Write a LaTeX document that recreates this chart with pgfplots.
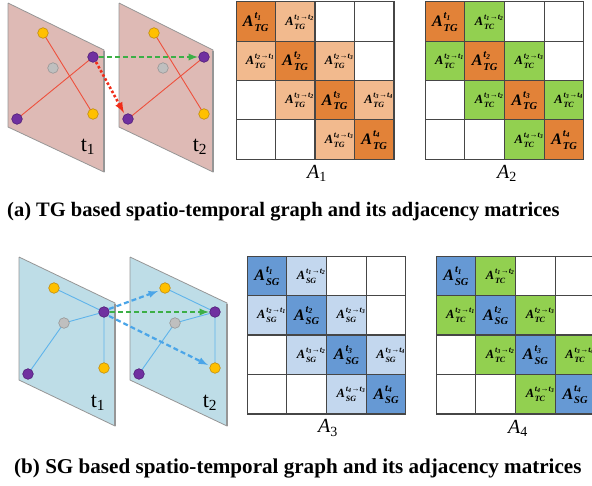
\documentclass[border=0pt]{standalone}
\usepackage{pgfplots}
\pgfplotsset{compat=1.18}
\usepackage{fontspec}
\setmainfont{Liberation Serif}

% plane and node colours
\definecolor{planeRed}{RGB}{222,186,181}
\definecolor{planeBlue}{RGB}{190,221,231}
\definecolor{planeEdge}{RGB}{150,150,150}
\definecolor{edgeRed}{RGB}{238,80,60}
\definecolor{edgeBlue}{RGB}{95,180,235}
\definecolor{arrBlue}{RGB}{75,165,232}
\definecolor{arrGreen}{RGB}{60,175,70}
\definecolor{arrRed}{RGB}{240,45,25}
\definecolor{nYellow}{RGB}{255,192,0}
\definecolor{nYellowD}{RGB}{190,140,20}
\definecolor{nPurple}{RGB}{112,48,160}
\definecolor{nPurpleD}{RGB}{80,30,120}
\definecolor{nGray}{RGB}{191,191,191}
\definecolor{nGrayD}{RGB}{150,150,150}
% matrix cell colours
\definecolor{orD}{RGB}{226,130,56}
\definecolor{orL}{RGB}{242,186,142}
\definecolor{grC}{RGB}{146,208,80}
\definecolor{blD}{RGB}{102,153,212}
\definecolor{blL}{RGB}{195,215,238}
\definecolor{cellEdge}{RGB}{70,70,70}

% block label: A with a stacked superscript and subscript
% #1 size of A, #2 size of the scripts, #3 superscript, #4 subscript
\newsavebox{\lblsup}
\newsavebox{\lblsub}
\newcommand{\mlab}[4]{{\fontsize{#1}{#1}\selectfont\bfseries\itshape A\kern0.06em%
  \sbox\lblsup{\fontsize{#2}{#2}\selectfont\bfseries\itshape #3}%
  \sbox\lblsub{\fontsize{#2}{#2}\selectfont\bfseries\itshape #4}%
  \rlap{\raisebox{0.5em}{\usebox\lblsup}}%
  \raisebox{-0.3em}{\usebox\lblsub}%
  \ifdim\wd\lblsup>\wd\lblsub\hspace{\dimexpr\wd\lblsup-\wd\lblsub\relax}\fi}}
\newcommand{\ts}[1]{t\textsubscript{#1}}

\begin{document}
\begin{tikzpicture}
\begin{axis}[at={(0pt,0pt)}, anchor=south west, scale only axis,
  width=592pt, height=485pt, xmin=0, xmax=592, ymin=0, ymax=485,
  y dir=reverse, hide axis, clip=false]
% ---------- (a) TG graph: two time slices ----------
\addplot[fill=planeRed, draw=planeEdge, line width=0.8pt] coordinates {(8,3)(104,50)(104,172)(8,127)(8,3)};
\addplot[draw=planeEdge, line width=2pt] coordinates {(104,51)(104,172)};
\addplot[fill=planeRed, draw=planeEdge, line width=0.8pt] coordinates {(119,3)(213,50)(213,172)(119,127)(119,3)};
\addplot[draw=planeEdge, line width=2pt] coordinates {(213,51)(213,172)};
\addplot[draw=edgeRed, line width=0.9pt] coordinates {(43,33)(93,114)};
\addplot[draw=edgeRed, line width=0.9pt] coordinates {(93,57)(17,119)};
\addplot[draw=edgeRed, line width=0.9pt] coordinates {(154,33)(204,114)};
\addplot[draw=edgeRed, line width=0.9pt] coordinates {(204,57)(128,119)};
\addplot[draw=arrGreen, line width=2.2pt, dash pattern=on 5pt off 3pt, -latex] coordinates {(99,57)(198,57)};
\addplot[draw=arrRed, line width=2.6pt, dash pattern=on 2.5pt off 2.2pt, -latex] coordinates {(96,62)(124,113)};
\addplot[only marks, mark=*, mark size=5.3pt, mark options={fill=nYellow, draw=nYellowD, line width=0.6pt}] coordinates {(43,33)(93,114)(154,33)(204,114)};
\addplot[only marks, mark=*, mark size=5.3pt, mark options={fill=nPurple, draw=nPurpleD, line width=0.6pt}] coordinates {(93,57)(17,119)(204,57)(128,119)};
\addplot[only marks, mark=*, mark size=5.3pt, mark options={fill=nGray, draw=nGrayD, line width=0.6pt}] coordinates {(53,68)(163,68)};
% ---------- A1 ----------
\addplot[only marks, mark=square*, mark size=19.7pt, mark options={draw=cellEdge, line width=1.1pt, fill=white}] coordinates {(334.75,21.6)(374.25,21.6)(374.25,60.9)(255.75,100.1)(255.75,139.4)(295.25,139.4)};
\addplot[only marks, mark=square*, mark size=19.7pt, mark options={draw=cellEdge, line width=1.1pt, fill=orL}] coordinates {(295.25,21.6)(255.75,60.9)(334.75,60.9)(295.25,100.1)(374.25,100.1)(334.75,139.4)};
\addplot[only marks, mark=square*, mark size=19.7pt, mark options={draw=cellEdge, line width=1.1pt, fill=orD}] coordinates {(255.75,21.6)(295.25,60.9)(334.75,100.1)(374.25,139.4)};
% ---------- A2 ----------
\addplot[only marks, mark=square*, mark size=19.7pt, mark options={draw=cellEdge, line width=1.1pt, fill=white}] coordinates {(524.4,21.6)(564.1,21.6)(564.1,60.9)(444.9,100.1)(444.9,139.4)(484.6,139.4)};
\addplot[only marks, mark=square*, mark size=19.7pt, mark options={draw=cellEdge, line width=1.1pt, fill=grC}] coordinates {(484.6,21.6)(444.9,60.9)(524.4,60.9)(484.6,100.1)(564.1,100.1)(524.4,139.4)};
\addplot[only marks, mark=square*, mark size=19.7pt, mark options={draw=cellEdge, line width=1.1pt, fill=orD}] coordinates {(444.9,21.6)(484.6,60.9)(524.4,100.1)(564.1,139.4)};
% ---------- (b) SG graph: two time slices ----------
\addplot[fill=planeBlue, draw=planeEdge, line width=0.8pt] coordinates {(19,257)(115,303)(115,426)(19,380)(19,257)};
\addplot[draw=planeEdge, line width=2pt] coordinates {(115,304)(115,426)};
\addplot[fill=planeBlue, draw=planeEdge, line width=0.8pt] coordinates {(130,257)(227,303)(227,426)(130,380)(130,257)};
\addplot[draw=planeEdge, line width=2pt] coordinates {(227,304)(227,426)};
\addplot[draw=edgeBlue, line width=0.9pt] coordinates {(54,288)(104,312)};
\addplot[draw=edgeBlue, line width=0.9pt] coordinates {(28,374)(64,323)(104,312)(104,368)};
\addplot[draw=edgeBlue, line width=0.9pt] coordinates {(165,288)(215,312)};
\addplot[draw=edgeBlue, line width=0.9pt] coordinates {(139,374)(175,323)(215,312)(215,368)};
\addplot[draw=arrBlue, line width=2.2pt, dash pattern=on 5pt off 3pt, -latex] coordinates {(109,309)(158,291)};
\addplot[draw=arrGreen, line width=2.2pt, dash pattern=on 5pt off 3pt, -latex] coordinates {(110,312)(209,312)};
\addplot[draw=arrBlue, line width=2.2pt, dash pattern=on 5pt off 3pt, -latex] coordinates {(109,316)(208,365)};
\addplot[only marks, mark=*, mark size=5.3pt, mark options={fill=nYellow, draw=nYellowD, line width=0.6pt}] coordinates {(54,288)(104,368)(165,288)(215,368)};
\addplot[only marks, mark=*, mark size=5.3pt, mark options={fill=nPurple, draw=nPurpleD, line width=0.6pt}] coordinates {(104,312)(28,374)(215,312)(139,374)};
\addplot[only marks, mark=*, mark size=5.3pt, mark options={fill=nGray, draw=nGrayD, line width=0.6pt}] coordinates {(64,323)(175,323)};
% ---------- A3 ----------
\addplot[only marks, mark=square*, mark size=19.7pt, mark options={draw=cellEdge, line width=1.1pt, fill=white}] coordinates {(346.4,275.75)(386.1,275.75)(386.1,315.25)(266.9,354.75)(266.9,394.25)(306.6,394.25)};
\addplot[only marks, mark=square*, mark size=19.7pt, mark options={draw=cellEdge, line width=1.1pt, fill=blL}] coordinates {(306.6,275.75)(266.9,315.25)(346.4,315.25)(306.6,354.75)(386.1,354.75)(346.4,394.25)};
\addplot[only marks, mark=square*, mark size=19.7pt, mark options={draw=cellEdge, line width=1.1pt, fill=blD}] coordinates {(266.9,275.75)(306.6,315.25)(346.4,354.75)(386.1,394.25)};
% ---------- A4 ----------
\addplot[only marks, mark=square*, mark size=19.7pt, mark options={draw=cellEdge, line width=1.1pt, fill=white}] coordinates {(535.4,275.75)(575.1,275.75)(575.1,315.25)(455.9,354.75)(455.9,394.25)(495.6,394.25)};
\addplot[only marks, mark=square*, mark size=19.7pt, mark options={draw=cellEdge, line width=1.1pt, fill=grC}] coordinates {(495.6,275.75)(455.9,315.25)(535.4,315.25)(495.6,354.75)(575.1,354.75)(535.4,394.25)};
\addplot[only marks, mark=square*, mark size=19.7pt, mark options={draw=cellEdge, line width=1.1pt, fill=blD}] coordinates {(455.9,275.75)(495.6,315.25)(535.4,354.75)(575.1,394.25)};
\end{axis}
% ---------- labels (page frame in pt, origin bottom left) ----------
\node at (88pt,338pt) {\fontsize{22}{22}\selectfont t\textsubscript{1}};
\node at (200pt,338pt) {\fontsize{22}{22}\selectfont t\textsubscript{2}};
\node at (98pt,82pt) {\fontsize{22}{22}\selectfont t\textsubscript{1}};
\node at (210pt,82pt) {\fontsize{22}{22}\selectfont t\textsubscript{2}};
% A1
\node[inner sep=0pt] at (255.75pt,463pt) {\mlab{16}{10.5}{\ts{1}}{TG}};
\node[inner sep=0pt] at (295.25pt,463pt) {\mlab{12.5}{8}{\ts{1}→\ts{2}}{TG}};
\node[inner sep=0pt] at (255.75pt,423.7pt) {\mlab{12.5}{8}{\ts{2}→\ts{1}}{TG}};
\node[inner sep=0pt] at (295.25pt,423.7pt) {\mlab{16}{10.5}{\ts{2}}{TG}};
\node[inner sep=0pt] at (334.75pt,423.7pt) {\mlab{12.5}{8}{\ts{2}→\ts{3}}{TG}};
\node[inner sep=0pt] at (295.25pt,384.5pt) {\mlab{12.5}{8}{\ts{3}→\ts{2}}{TG}};
\node[inner sep=0pt] at (334.75pt,384.5pt) {\mlab{16}{10.5}{\ts{3}}{TG}};
\node[inner sep=0pt] at (374.25pt,384.5pt) {\mlab{12.5}{8}{\ts{3}→\ts{4}}{TG}};
\node[inner sep=0pt] at (334.75pt,345.2pt) {\mlab{12.5}{8}{\ts{4}→\ts{3}}{TG}};
\node[inner sep=0pt] at (374.25pt,345.2pt) {\mlab{16}{10.5}{\ts{4}}{TG}};
\node at (317pt,312pt) {\fontsize{20}{20}\selectfont\itshape A\textsubscript{\upshape 1}};
% A2
\node[inner sep=0pt] at (444.9pt,463pt) {\mlab{16}{10.5}{\ts{1}}{TG}};
\node[inner sep=0pt] at (484.6pt,463pt) {\mlab{12.5}{8}{\ts{1}→\ts{2}}{TC}};
\node[inner sep=0pt] at (444.9pt,423.7pt) {\mlab{12.5}{8}{\ts{2}→\ts{1}}{TC}};
\node[inner sep=0pt] at (484.6pt,423.7pt) {\mlab{16}{10.5}{\ts{2}}{TG}};
\node[inner sep=0pt] at (524.4pt,423.7pt) {\mlab{12.5}{8}{\ts{2}→\ts{3}}{TC}};
\node[inner sep=0pt] at (484.6pt,384.5pt) {\mlab{12.5}{8}{\ts{3}→\ts{2}}{TC}};
\node[inner sep=0pt] at (524.4pt,384.5pt) {\mlab{16}{10.5}{\ts{3}}{TG}};
\node[inner sep=0pt] at (564.1pt,384.5pt) {\mlab{12.5}{8}{\ts{3}→\ts{4}}{TC}};
\node[inner sep=0pt] at (524.4pt,345.2pt) {\mlab{12.5}{8}{\ts{4}→\ts{3}}{TC}};
\node[inner sep=0pt] at (564.1pt,345.2pt) {\mlab{16}{10.5}{\ts{4}}{TG}};
\node at (507pt,312pt) {\fontsize{20}{20}\selectfont\itshape A\textsubscript{\upshape 2}};
% A3
\node[inner sep=0pt] at (266.9pt,209pt) {\mlab{16}{10.5}{\ts{1}}{SG}};
\node[inner sep=0pt] at (306.6pt,209pt) {\mlab{12.5}{8}{\ts{1}→\ts{2}}{SG}};
\node[inner sep=0pt] at (266.9pt,169.5pt) {\mlab{12.5}{8}{\ts{2}→\ts{1}}{SG}};
\node[inner sep=0pt] at (306.6pt,169.5pt) {\mlab{16}{10.5}{\ts{2}}{SG}};
\node[inner sep=0pt] at (346.4pt,169.5pt) {\mlab{12.5}{8}{\ts{2}→\ts{3}}{SG}};
\node[inner sep=0pt] at (306.6pt,130pt) {\mlab{12.5}{8}{\ts{3}→\ts{2}}{SG}};
\node[inner sep=0pt] at (346.4pt,130pt) {\mlab{16}{10.5}{\ts{3}}{SG}};
\node[inner sep=0pt] at (386.1pt,130pt) {\mlab{12.5}{8}{\ts{3}→\ts{4}}{SG}};
\node[inner sep=0pt] at (346.4pt,90.5pt) {\mlab{12.5}{8}{\ts{4}→\ts{3}}{SG}};
\node[inner sep=0pt] at (386.1pt,90.5pt) {\mlab{16}{10.5}{\ts{4}}{SG}};
\node at (328pt,57pt) {\fontsize{20}{20}\selectfont\itshape A\textsubscript{\upshape 3}};
% A4
\node[inner sep=0pt] at (455.9pt,209pt) {\mlab{16}{10.5}{\ts{1}}{SG}};
\node[inner sep=0pt] at (495.6pt,209pt) {\mlab{12.5}{8}{\ts{1}→\ts{2}}{TC}};
\node[inner sep=0pt] at (455.9pt,169.5pt) {\mlab{12.5}{8}{\ts{2}→\ts{1}}{TC}};
\node[inner sep=0pt] at (495.6pt,169.5pt) {\mlab{16}{10.5}{\ts{2}}{SG}};
\node[inner sep=0pt] at (535.4pt,169.5pt) {\mlab{12.5}{8}{\ts{2}→\ts{3}}{TC}};
\node[inner sep=0pt] at (495.6pt,130pt) {\mlab{12.5}{8}{\ts{3}→\ts{2}}{TC}};
\node[inner sep=0pt] at (535.4pt,130pt) {\mlab{16}{10.5}{\ts{3}}{SG}};
\node[inner sep=0pt] at (575.1pt,130pt) {\mlab{12.5}{8}{\ts{3}→\ts{4}}{TC}};
\node[inner sep=0pt] at (535.4pt,90.5pt) {\mlab{12.5}{8}{\ts{4}→\ts{3}}{TC}};
\node[inner sep=0pt] at (575.1pt,90.5pt) {\mlab{16}{10.5}{\ts{4}}{SG}};
\node at (518pt,57pt) {\fontsize{20}{20}\selectfont\itshape A\textsubscript{\upshape 4}};
% captions
\node[anchor=base west, inner sep=0pt] at (7pt,268pt) {\fontsize{20.5}{20.5}\selectfont\bfseries (a) TG based spatio-temporal graph and its adjacency matrices};
\node[anchor=base west, inner sep=0pt] at (14pt,12pt) {\fontsize{21.1}{21.1}\selectfont\bfseries (b) SG based spatio-temporal graph and its adjacency matrices};
% the page is the 592 x 485 frame of the axis
\pgfresetboundingbox
\path (0pt,0pt) rectangle (592pt,485pt);
\end{tikzpicture}
\end{document}
